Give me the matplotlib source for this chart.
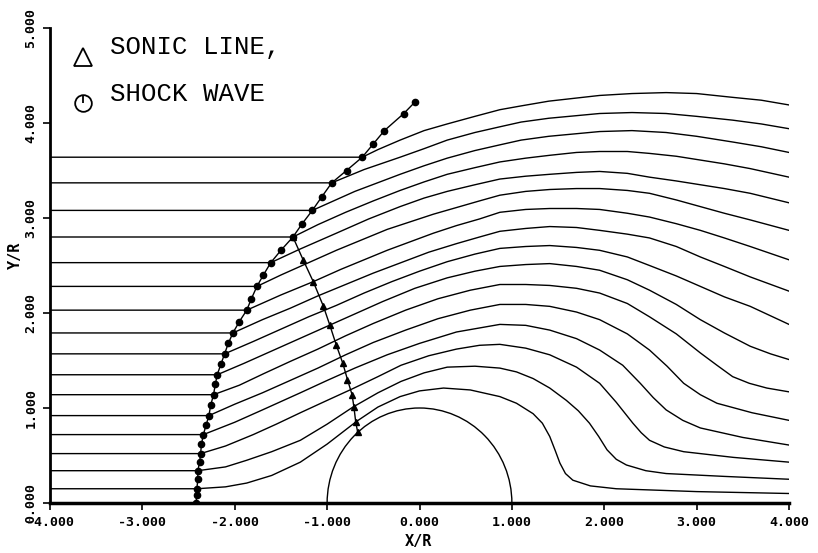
import matplotlib
matplotlib.use("Agg")
import matplotlib.pyplot as plt
from matplotlib.patches import Arc

# streamlines, top (1) to bottom (16): x/R and y/R
line_01 = ([-4, -0.62, -0.45, -0.21, 0.05, 0.30, 0.60, 0.87, 1.10, 1.40, 1.95, 2.30, 2.67, 3.00, 3.39, 3.70, 4.00],
           [3.64, 3.64, 3.72, 3.82, 3.92, 3.99, 4.07, 4.14, 4.18, 4.23, 4.29, 4.31, 4.32, 4.31, 4.27, 4.24, 4.19])
line_02 = ([-4, -0.95, -0.60, -0.21, 0.05, 0.30, 0.60, 0.87, 1.10, 1.40, 1.95, 2.30, 2.67, 3.00, 3.39, 3.70, 4.00],
           [3.37, 3.37, 3.51, 3.64, 3.73, 3.82, 3.90, 3.96, 4.01, 4.05, 4.10, 4.11, 4.10, 4.07, 4.03, 3.99, 3.94])
line_03 = ([-4, -1.16, -0.70, -0.21, 0.05, 0.30, 0.60, 0.87, 1.10, 1.40, 1.95, 2.30, 2.67, 3.00, 3.39, 3.70, 4.00],
           [3.08, 3.08, 3.28, 3.46, 3.55, 3.63, 3.71, 3.77, 3.82, 3.86, 3.91, 3.92, 3.90, 3.86, 3.80, 3.75, 3.69])
line_04 = ([-4, -1.37, -1.10, -0.80, -0.50, -0.21, 0.05, 0.30, 0.60, 0.87, 1.15, 1.41, 1.70, 1.95, 2.25, 2.49, 2.78, 3.04, 3.30, 3.58, 4.00],
           [2.80, 2.80, 2.93, 3.06, 3.18, 3.29, 3.38, 3.46, 3.53, 3.59, 3.63, 3.66, 3.69, 3.70, 3.70, 3.68, 3.65, 3.61, 3.57, 3.52, 3.43])
line_05 = ([-4, -1.61, -1.30, -0.90, -0.55, -0.21, 0.05, 0.30, 0.60, 0.87, 1.15, 1.41, 1.70, 1.95, 2.25, 2.49, 2.78, 3.04, 3.30, 3.58, 4.00],
           [2.53, 2.53, 2.67, 2.84, 2.99, 3.12, 3.21, 3.28, 3.35, 3.41, 3.44, 3.46, 3.48, 3.49, 3.47, 3.43, 3.39, 3.35, 3.31, 3.26, 3.16])
line_06 = ([-4, -1.76, -1.50, -1.20, -0.90, -0.60, -0.35, -0.10, 0.15, 0.40, 0.65, 0.87, 1.15, 1.41, 1.70, 1.95, 2.25, 2.49, 2.78, 3.04, 3.30, 3.58, 4.00],
           [2.28, 2.28, 2.40, 2.53, 2.66, 2.78, 2.88, 2.96, 3.04, 3.11, 3.18, 3.24, 3.28, 3.30, 3.31, 3.31, 3.29, 3.26, 3.19, 3.12, 3.05, 2.98, 2.87])
line_07 = ([-4, -1.87, -1.50, -1.15, -0.85, -0.60, -0.35, -0.10, 0.15, 0.40, 0.65, 0.87, 1.15, 1.41, 1.70, 1.95, 2.25, 2.49, 2.78, 3.04, 3.30, 3.58, 4.00],
           [2.03, 2.03, 2.19, 2.33, 2.46, 2.56, 2.66, 2.75, 2.84, 2.92, 2.99, 3.06, 3.09, 3.10, 3.10, 3.09, 3.05, 3.01, 2.94, 2.87, 2.79, 2.70, 2.56])
line_08 = ([-4, -2.02, -1.70, -1.40, -1.10, -0.80, -0.50, -0.20, 0.10, 0.40, 0.65, 0.87, 1.15, 1.41, 1.70, 1.95, 2.25, 2.49, 2.78, 3.04, 3.30, 3.58, 4.00],
           [1.79, 1.79, 1.93, 2.05, 2.18, 2.30, 2.42, 2.53, 2.64, 2.73, 2.80, 2.86, 2.89, 2.91, 2.90, 2.87, 2.83, 2.79, 2.70, 2.59, 2.49, 2.38, 2.23])
line_09 = ([-4, -2.11, -1.80, -1.50, -1.20, -0.90, -0.60, -0.30, 0.00, 0.30, 0.60, 0.87, 1.15, 1.41, 1.70, 1.95, 2.25, 2.49, 2.78, 3.04, 3.30, 3.58, 4.00],
           [1.57, 1.57, 1.70, 1.83, 1.96, 2.08, 2.21, 2.33, 2.44, 2.54, 2.62, 2.68, 2.70, 2.71, 2.69, 2.66, 2.59, 2.50, 2.39, 2.28, 2.17, 2.07, 1.88])
line_10 = ([-4, -2.19, -1.90, -1.60, -1.30, -1.00, -0.70, -0.40, -0.05, 0.30, 0.60, 0.87, 1.15, 1.41, 1.70, 1.95, 2.25, 2.49, 2.78, 3.04, 3.30, 3.58, 3.80, 4.00],
           [1.35, 1.35, 1.47, 1.60, 1.73, 1.86, 1.99, 2.12, 2.26, 2.37, 2.44, 2.49, 2.51, 2.52, 2.49, 2.45, 2.35, 2.24, 2.09, 1.93, 1.79, 1.65, 1.57, 1.51])
line_11 = ([-4, -2.23, -1.95, -1.69, -1.40, -1.10, -0.80, -0.50, -0.15, 0.20, 0.55, 0.87, 1.15, 1.41, 1.70, 1.95, 2.25, 2.49, 2.78, 3.04, 3.22, 3.39, 3.57, 3.76, 4.00],
           [1.14, 1.14, 1.24, 1.36, 1.49, 1.62, 1.76, 1.89, 2.03, 2.15, 2.24, 2.30, 2.30, 2.29, 2.26, 2.21, 2.10, 1.96, 1.78, 1.58, 1.45, 1.33, 1.26, 1.21, 1.17])
line_12 = ([-4, -2.28, -2.00, -1.70, -1.40, -1.10, -0.80, -0.50, -0.15, 0.20, 0.55, 0.87, 1.15, 1.41, 1.70, 1.95, 2.25, 2.49, 2.68, 2.86, 3.04, 3.22, 3.60, 4.00],
           [0.92, 0.92, 1.04, 1.16, 1.29, 1.42, 1.56, 1.69, 1.82, 1.94, 2.03, 2.09, 2.09, 2.07, 2.01, 1.93, 1.78, 1.61, 1.44, 1.26, 1.14, 1.05, 0.95, 0.87])
line_13 = ([-4, -2.34, -2.00, -1.70, -1.29, -1.00, -0.70, -0.35, 0.00, 0.40, 0.87, 1.15, 1.41, 1.70, 1.95, 2.20, 2.39, 2.53, 2.67, 2.85, 3.04, 3.50, 4.00],
           [0.72, 0.72, 0.85, 0.98, 1.16, 1.29, 1.42, 1.56, 1.68, 1.80, 1.88, 1.87, 1.82, 1.73, 1.61, 1.45, 1.26, 1.11, 0.98, 0.87, 0.79, 0.69, 0.61])
line_14 = ([-4, -2.37, -2.10, -1.80, -1.55, -1.29, -1.00, -0.73, -0.45, -0.20, 0.10, 0.40, 0.65, 0.87, 1.15, 1.41, 1.70, 1.95, 2.13, 2.31, 2.40, 2.49, 2.65, 2.86, 3.40, 4.00],
           [0.52, 0.52, 0.60, 0.72, 0.83, 0.95, 1.08, 1.20, 1.33, 1.45, 1.55, 1.62, 1.66, 1.67, 1.63, 1.56, 1.43, 1.26, 1.06, 0.84, 0.74, 0.66, 0.59, 0.54, 0.48, 0.43])
line_15 = ([-4, -2.40, -2.10, -1.87, -1.60, -1.29, -1.00, -0.72, -0.45, -0.20, 0.05, 0.30, 0.60, 0.87, 1.05, 1.23, 1.41, 1.59, 1.72, 1.84, 1.94, 2.03, 2.13, 2.24, 2.45, 2.67, 3.30, 4.00],
           [0.34, 0.34, 0.38, 0.45, 0.54, 0.66, 0.83, 1.01, 1.16, 1.28, 1.37, 1.43, 1.44, 1.42, 1.38, 1.31, 1.21, 1.08, 0.97, 0.84, 0.70, 0.56, 0.46, 0.40, 0.34, 0.31, 0.28, 0.25])
line_16 = ([-4, -2.41, -2.10, -1.87, -1.60, -1.29, -1.00, -0.68, -0.45, -0.21, 0.00, 0.26, 0.55, 0.87, 1.05, 1.23, 1.33, 1.41, 1.47, 1.52, 1.58, 1.66, 1.85, 2.13, 3.00, 4.00],
           [0.15, 0.15, 0.17, 0.21, 0.29, 0.43, 0.62, 0.86, 1.01, 1.12, 1.18, 1.21, 1.19, 1.12, 1.05, 0.94, 0.84, 0.70, 0.55, 0.42, 0.31, 0.24, 0.18, 0.15, 0.12, 0.10])

streamlines = [line_01, line_02, line_03, line_04, line_05, line_06, line_07, line_08,
               line_09, line_10, line_11, line_12, line_13, line_14, line_15, line_16]

# shock wave points (circles)
shock_x = [-2.42, -2.41, -2.41, -2.40, -2.40, -2.38, -2.37, -2.36, -2.34, -2.31, -2.28,
           -2.26, -2.23, -2.21, -2.19, -2.15, -2.11, -2.07, -2.02, -1.95, -1.87, -1.82,
           -1.76, -1.69, -1.61, -1.50, -1.37, -1.27, -1.16, -1.06, -0.95, -0.79, -0.62,
           -0.50, -0.38, -0.17, -0.05]
shock_y = [0.00, 0.08, 0.15, 0.25, 0.34, 0.43, 0.52, 0.62, 0.72, 0.82, 0.92,
           1.03, 1.14, 1.25, 1.35, 1.46, 1.57, 1.68, 1.79, 1.91, 2.03, 2.15,
           2.28, 2.40, 2.53, 2.66, 2.80, 2.94, 3.08, 3.22, 3.37, 3.50, 3.64,
           3.78, 3.92, 4.10, 4.22]

# sonic line points (triangles)
sonic_x = [-1.37, -1.26, -1.15, -1.04, -0.97, -0.90, -0.83, -0.78, -0.73, -0.71, -0.69, -0.67]
sonic_y = [2.80, 2.56, 2.33, 2.07, 1.87, 1.66, 1.47, 1.30, 1.14, 1.01, 0.85, 0.75]

body_radius = 1.0
x_ticks = [-4, -3, -2, -1, 0, 1, 2, 3, 4]
y_ticks = [0, 1, 2, 3, 4, 5]

fig = plt.figure(figsize=(8.18, 5.53), dpi=100)
ax = fig.add_axes([50 / 818, 50 / 553, 739 / 818, 475 / 553])

for xs, ys in streamlines:
    ax.plot(xs, ys, color="black", lw=1.0)

ax.add_patch(Arc((0, 0), 2 * body_radius, 2 * body_radius, theta1=0, theta2=180,
                 color="black", lw=1.0))

ax.plot(shock_x, shock_y, color="black", lw=1.0, marker="o", ms=4.5)
ax.plot(sonic_x, sonic_y, color="black", lw=1.0, marker="^", ms=4.5)

# legend drawn like the plotter did it
ax.plot([-3.64], [4.70], marker="^", ms=13, mfc="none", mec="black", mew=1.3)
ax.plot([-3.64], [4.21], marker="o", ms=12, mfc="none", mec="black", mew=1.3)
ax.plot([-3.64], [4.255], marker="|", ms=6, mec="black", mew=1.3)
ax.text(-3.35, 4.80, "SONIC LINE,", fontsize=18.5, family="Liberation Mono", va="center")
ax.text(-3.35, 4.31, "SHOCK WAVE", fontsize=18.5, family="Liberation Mono", va="center")

ax.set_xlim(-4, 4)
ax.set_ylim(0, 5)
ax.set_xticks(x_ticks)
ax.set_yticks(y_ticks)
ax.set_xticklabels(["%.3f" % v for v in x_ticks], family="DejaVu Sans Mono",
                   fontweight="bold", fontsize=9.5)
ax.set_yticklabels(["%.3f" % v for v in y_ticks], family="DejaVu Sans Mono",
                   fontweight="bold", fontsize=9.5, rotation=90, va="center")
ax.tick_params(direction="out", length=5, width=1.2, pad=4)

for side in ["top", "right"]:
    ax.spines[side].set_visible(False)
ax.spines["left"].set_linewidth(2.0)
ax.spines["bottom"].set_linewidth(2.5)

ax.text(0.499, -0.082, "X/R", transform=ax.transAxes, ha="center", va="center",
        family="DejaVu Sans Mono", fontweight="bold", fontsize=11)
ax.text(-0.047, 0.522, "Y/R", transform=ax.transAxes, ha="center", va="center",
        rotation=90, family="DejaVu Sans Mono", fontweight="bold", fontsize=11)

fig.savefig("out.png", dpi=100)
